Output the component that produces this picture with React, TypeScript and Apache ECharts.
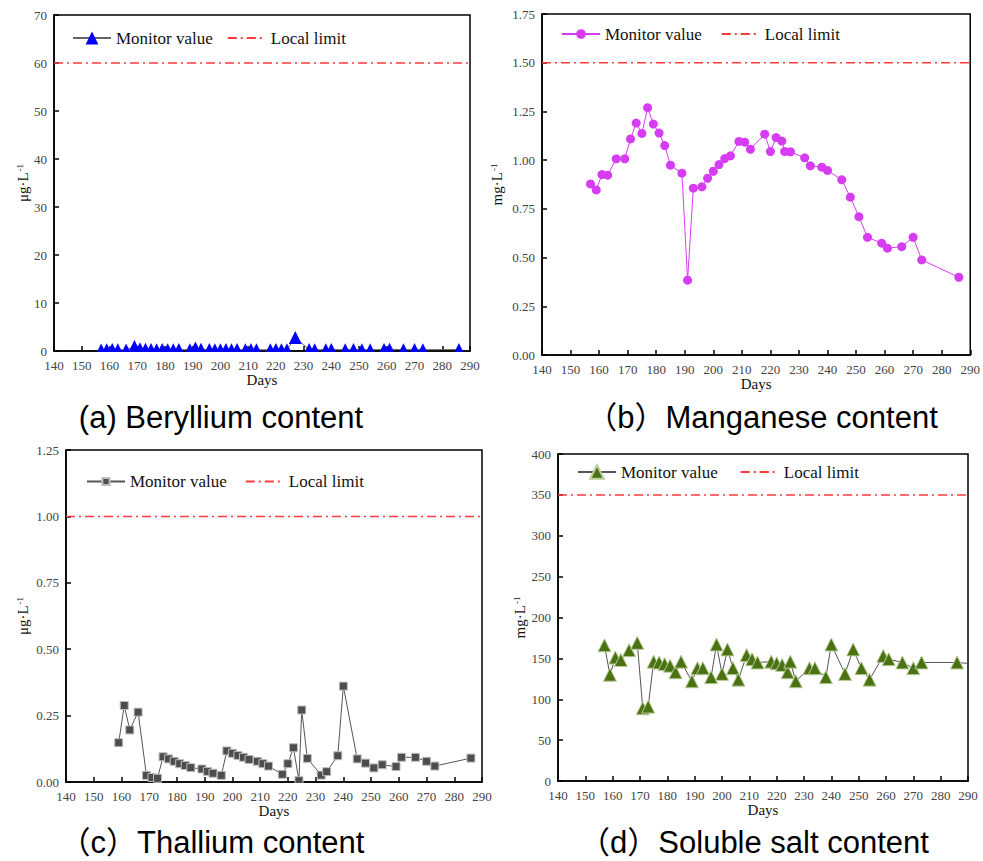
import React, { useEffect, useRef } from "react";
import * as echarts from "echarts";

// ---------- data ----------
const xMin = 140;
const xMax = 290;
const xStep = 10;

const legendNames = ["Monitor value", "Local limit"];
const captions = [
  "(a) Beryllium content",
  "（b）Manganese content",
  "（c）Thallium content",
  "（d）Soluble salt content",
];
const yUnits = ["μg·L", "mg·L", "μg·L", "mg·L"];
const xName = "Days";

// (a) Beryllium, μg/L
const beDays = [157, 159, 161, 163, 166, 169, 171, 173, 175, 177, 179, 181, 183, 185, 189, 191, 193, 196, 198, 200, 202, 204, 206, 209, 211, 213, 218, 220, 222, 224, 227, 232, 234, 238, 240, 245, 248, 251, 254, 259, 261, 266, 270, 273, 286];
const beValues = [0.22, 0.25, 0.3, 0.28, 0.2, 0.95, 0.45, 0.35, 0.3, 0.28, 0.3, 0.25, 0.28, 0.3, 0.25, 0.6, 0.35, 0.3, 0.28, 0.25, 0.3, 0.28, 0.3, 0.25, 0.3, 0.28, 0.25, 0.3, 0.28, 0.25, 2.8, 0.3, 0.28, 0.25, 0.3, 0.28, 0.3, 0.25, 0.28, 0.3, 0.35, 0.28, 0.3, 0.28, 0.3];
const beLimit = 60;
const beYAxis = { min: 0, max: 70, step: 10, digits: 0 };

// (b) Manganese, mg/L
const mnDays = [157, 159, 161, 163, 166, 169, 171, 173, 175, 177, 179, 181, 183, 185, 189, 191, 193, 196, 198, 200, 202, 204, 206, 209, 211, 213, 218, 220, 222, 224, 225, 227, 232, 234, 238, 240, 245, 248, 251, 254, 259, 261, 266, 270, 273, 286];
const mnValues = [0.878, 0.847, 0.926, 0.923, 1.007, 1.007, 1.109, 1.19, 1.137, 1.269, 1.185, 1.139, 1.075, 0.974, 0.933, 0.384, 0.856, 0.863, 0.907, 0.943, 0.977, 1.008, 1.022, 1.096, 1.092, 1.056, 1.133, 1.044, 1.116, 1.098, 1.044, 1.043, 1.012, 0.971, 0.964, 0.947, 0.899, 0.81, 0.71, 0.604, 0.574, 0.548, 0.556, 0.604, 0.488, 0.399];
const mnLimit = 1.5;
const mnYAxis = { min: 0, max: 1.75, step: 0.25, digits: 2 };

// (c) Thallium, μg/L
const tlDays = [159, 161, 163, 166, 169, 171, 173, 175, 177, 179, 181, 183, 185, 189, 191, 193, 196, 198, 200, 202, 204, 206, 209, 211, 213, 218, 220, 222, 224, 225, 227, 232, 234, 238, 240, 245, 248, 251, 254, 259, 261, 266, 270, 273, 286];
const tlValues = [0.148, 0.288, 0.196, 0.263, 0.025, 0.017, 0.014, 0.095, 0.087, 0.078, 0.069, 0.062, 0.054, 0.049, 0.04, 0.033, 0.025, 0.117, 0.108, 0.1, 0.093, 0.085, 0.078, 0.069, 0.06, 0.029, 0.069, 0.129, 0.005, 0.271, 0.089, 0.026, 0.039, 0.099, 0.361, 0.087, 0.071, 0.053, 0.065, 0.058, 0.093, 0.093, 0.078, 0.06, 0.09];
const tlLimit = 1.0;
const tlYAxis = { min: 0, max: 1.25, step: 0.25, digits: 2 };

// (d) Soluble salt, mg/L
const ssDays = [157, 159, 161, 163, 166, 169, 171, 173, 175, 177, 179, 181, 183, 185, 189, 191, 193, 196, 198, 200, 202, 204, 206, 209, 211, 213, 218, 220, 222, 224, 225, 227, 232, 234, 238, 240, 245, 248, 251, 254, 259, 261, 266, 270, 273, 286, 296];
const ssValues = [166, 130, 151, 148, 160, 169, 89, 91, 146, 145, 143, 141, 133, 146, 122, 138, 138, 127, 167, 131, 161, 138, 124, 154, 149, 145, 146, 144, 142, 133, 146, 122, 138, 138, 127, 167, 131, 161, 138, 124, 153, 149, 145, 138, 145, 145, 142];
const ssLimit = 350;
const ssYAxis = { min: 0, max: 400, step: 50, digits: 0 };

// ---------- layout & styles ----------
const SERIF = '"Liberation Serif", "DejaVu Serif", serif';
const SANS = '"Liberation Sans", Arial, "Noto Sans CJK SC", sans-serif';
const LIMIT_COLOR = "#ff3b3b";

const panels = [
  {
    days: beDays, values: beValues, limit: beLimit, y: beYAxis,
    grid: { left: 54, top: 15, width: 416, height: 336 },
    legend: { left: 72, top: 29.5, itemHeight: 16, itemGap: 14 },
    nameGap: 23, caption: { x: 221, y: 417 },
    symbol: "triangle", symbolSize: 13, color: "#0000ff", lineColor: "#666666", border: null,
    cover: true,
  },
  {
    days: mnDays, values: mnValues, limit: mnLimit, y: mnYAxis,
    grid: { left: 542, top: 14, width: 429, height: 341 },
    legend: { left: 561, top: 25.5, itemHeight: 12, itemGap: 19 },
    nameGap: 38, caption: { x: 762, y: 417 },
    symbol: "circle", symbolSize: 9, color: "#d63cf2", lineColor: "#d63cf2", border: null,
    cover: false,
  },
  {
    days: tlDays, values: tlValues, limit: tlLimit, y: tlYAxis,
    grid: { left: 66, top: 450, width: 416, height: 332 },
    legend: { left: 86, top: 473, itemHeight: 9, itemGap: 18 },
    nameGap: 36, caption: { x: 212, y: 842 },
    symbol: "rect", symbolSize: 8, color: "#4d4d4d", lineColor: "#555555", border: "#bdbdbd",
    cover: true,
  },
  {
    days: ssDays, values: ssValues, limit: ssLimit, y: ssYAxis,
    grid: { left: 558, top: 454, width: 410, height: 327 },
    legend: { left: 577, top: 463.5, itemHeight: 17, itemGap: 22 },
    nameGap: 30, caption: { x: 754, y: 842 },
    symbol: "triangle", symbolSize: 13, color: "#4a7212", lineColor: "#555555", border: "#b9cc9a",
    cover: false,
  },
];

function buildOption() {
  const grids: any[] = [];
  const xAxes: any[] = [];
  const yAxes: any[] = [];
  const series: any[] = [];
  const legends: any[] = [];
  const graphics: any[] = [];

  panels.forEach((p, i) => {
    const mName = `m${i}`;
    const lName = `l${i}`;
    grids.push({
      ...p.grid,
      show: true,
      borderColor: "#000",
      borderWidth: 1.5,
      backgroundColor: "transparent",
      containLabel: false,
    });
    xAxes.push({
      type: "value",
      gridIndex: i,
      min: xMin,
      max: xMax,
      interval: xStep,
      axisLine: { show: true, onZero: false, lineStyle: { color: "#000", width: 1.5 } },
      axisTick: { show: true, inside: true, length: 5, lineStyle: { color: "#000", width: 1.5 } },
      axisLabel: { color: "#444", fontSize: 13, fontFamily: SERIF, margin: 8 },
      splitLine: { show: false },
      name: xName,
      nameLocation: "middle",
      nameGap: 21,
      nameTextStyle: { fontSize: 15, fontFamily: SERIF, color: "#111" },
    });
    yAxes.push({
      type: "value",
      gridIndex: i,
      min: p.y.min,
      max: p.y.max,
      interval: p.y.step,
      axisLine: { show: true, onZero: false, lineStyle: { color: "#000", width: 1.5 } },
      axisTick: { show: true, inside: true, length: 5, lineStyle: { color: "#000", width: 1.5 } },
      axisLabel: {
        color: "#444",
        fontSize: 13,
        fontFamily: SERIF,
        margin: 7,
        formatter: (v: number) => v.toFixed(p.y.digits),
      },
      splitLine: { show: false },
      name: `{b|${yUnits[i]}}{s|-1}`,
      nameLocation: "middle",
      nameGap: p.nameGap,
      nameTextStyle: {
        fontSize: 15,
        fontFamily: SERIF,
        color: "#111",
        rich: {
          b: { fontSize: 15, fontFamily: SERIF, color: "#111" },
          s: { fontSize: 9, fontFamily: SERIF, color: "#111", verticalAlign: "top", padding: [0, 0, 0, 1] },
        },
      },
    });
    series.push({
      name: mName,
      type: "line",
      xAxisIndex: i,
      yAxisIndex: i,
      data: p.days.map((d, k) => [d, p.values[k]]),
      symbol: p.symbol,
      symbolSize: p.symbolSize,
      showSymbol: true,
      clip: true,
      z: 3,
      itemStyle: {
        color: p.color,
        borderColor: p.border || p.color,
        borderWidth: p.border ? 1 : 0,
      },
      lineStyle: { color: p.lineColor, width: 1 },
      emphasis: { disabled: true },
    });
    series.push({
      name: lName,
      type: "line",
      xAxisIndex: i,
      yAxisIndex: i,
      data: [
        [xMin, p.limit],
        [xMax, p.limit],
      ],
      symbol: "none",
      z: 2,
      itemStyle: { color: "rgba(0,0,0,0)", borderColor: "rgba(0,0,0,0)", borderWidth: 0 },
      lineStyle: { color: LIMIT_COLOR, width: 1.5, type: [9, 4, 2, 4] },
      emphasis: { disabled: true },
    });
    legends.push({
      left: p.legend.left,
      top: p.legend.top,
      orient: "horizontal",
      padding: 0,
      itemWidth: 38,
      itemHeight: p.legend.itemHeight,
      itemGap: p.legend.itemGap,
      selectedMode: false,
      textStyle: { fontSize: 17, fontFamily: SERIF, color: "#111" },
      formatter: (n: string) => (n.startsWith("m") ? legendNames[0] : legendNames[1]),
      data: [
        { name: mName },
        {
          name: lName,
          itemStyle: { color: "rgba(0,0,0,0)", borderColor: "rgba(0,0,0,0)", borderWidth: 0 },
        },
      ],
    });
    graphics.push({
      type: "text",
      z: 100,
      style: {
        text: captions[i],
        x: p.caption.x,
        y: p.caption.y,
        textAlign: "center",
        textVerticalAlign: "middle",
        fontSize: 31,
        fontFamily: SANS,
        fill: "#000",
      },
    });
    if (p.cover) {
      const g = p.grid;
      graphics.push({
        type: "rect",
        z: 100,
        shape: { x: g.left - 4, y: g.top + g.height + 1, width: g.width + 8, height: 6 },
        style: { fill: "#fff" },
      });
    }
  });

  return {
    animation: false,
    backgroundColor: "#fff",
    grid: grids,
    xAxis: xAxes,
    yAxis: yAxes,
    legend: legends,
    series,
    graphic: graphics,
  };
}

export default function App() {
  const ref = useRef<HTMLDivElement>(null);
  useEffect(() => {
    if (!ref.current) return;
    const chart = echarts.init(ref.current, null, { renderer: "svg" });
    chart.setOption(buildOption() as any);
    return () => chart.dispose();
  }, []);
  return (
    <div
      ref={ref}
      style={{ position: "absolute", left: 0, top: 0, width: 983, height: 861, background: "#fff" }}
    />
  );
}
